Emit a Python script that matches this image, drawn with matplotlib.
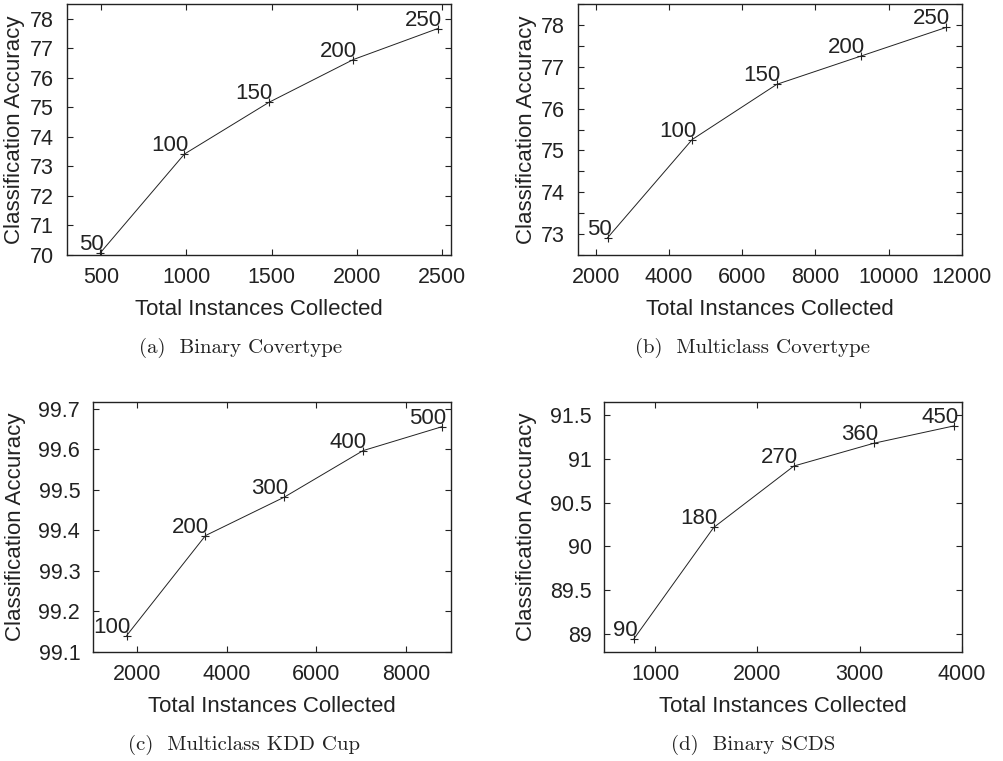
import matplotlib
matplotlib.use('Agg')
import matplotlib.pyplot as plt
from matplotlib.ticker import MultipleLocator

plt.rcParams['font.family'] = ['Liberation Sans', 'DejaVu Sans']

# (a) Binary Covertype
batch_a = [50, 100, 150, 200, 250]
inst_a = [495, 990, 1485, 1980, 2475]
acc_a = [70.06, 73.42, 75.17, 76.62, 77.67]

# (b) Multiclass Covertype
batch_b = [50, 100, 150, 200, 250]
inst_b = [2315, 4630, 6945, 9260, 11575]
acc_b = [72.91, 75.26, 76.58, 77.26, 77.94]

# (c) Multiclass KDD Cup
batch_c = [100, 200, 300, 400, 500]
inst_c = [1760, 3520, 5280, 7040, 8800]
acc_c = [99.14, 99.387, 99.482, 99.597, 99.656]

# (d) Binary SCDS
batch_d = [90, 180, 270, 360, 450]
inst_d = [786, 1571, 2357, 3142, 3928]
acc_d = [88.94, 90.216, 90.917, 91.177, 91.375]

captions = ['(a)  Binary Covertype', '(b)  Multiclass Covertype',
            '(c)  Multiclass KDD Cup', '(d)  Binary SCDS']

W, H = 1004, 761
fig = plt.figure(figsize=(W / 100, H / 100), dpi=100)


def px_axes(left, top, right, bottom):
    return fig.add_axes([left / W, 1 - bottom / H, (right - left) / W, (bottom - top) / H])


panels = [
    # data, box (l, t, r, b), xlim, ylim, xstep, ystep, yminor, ylabel x, caption x/y
    (inst_a, acc_a, batch_a, (66.7, 4, 450.7, 255), (300, 2550), (70, 78.5), 500, 1, None, 15, 241, 348),
    (inst_b, acc_b, batch_b, (577.7, 4, 961.7, 255), (1500, 12000), (72.5, 78.5), 2000, 1, 0.5, 527, 753, 348),
    (inst_c, acc_c, batch_c, (92.7, 401.7, 450.7, 651.7), (1000, 9000), (99.1, 99.718), 2000, 0.1, None, 16, 244, 745),
    (inst_d, acc_d, batch_d, (604.3, 401.7, 961.7, 651.7), (500, 4000), (88.8, 91.65), 1000, 0.5, None, 527, 753, 745),
]

ink = '#222222'
for i, (xs, ys, labels, box, xlim, ylim, xstep, ystep, yminor, ylab_x, cap_x, cap_y) in enumerate(panels):
    ax = px_axes(*box)
    ax.plot(xs, ys, color=ink, lw=0.7, marker='+', ms=6, mew=0.8)
    for x, y, lab in zip(xs, ys, labels):
        ax.annotate(str(lab), (x, y), xytext=(4, 3), textcoords='offset pixels',
                    ha='right', va='baseline', fontsize=16, color=ink)
    ax.set_xlim(*xlim)
    ax.set_ylim(*ylim)
    ax.xaxis.set_major_locator(MultipleLocator(xstep))
    ax.yaxis.set_major_locator(MultipleLocator(ystep))
    if yminor:
        ax.yaxis.set_minor_locator(MultipleLocator(yminor))
        ax.tick_params(axis='y', which='minor', direction='in', length=4, width=0.8,
                       left=True, right=True, color=ink)
    ax.tick_params(which='major', direction='in', length=4, width=0.8, top=True, right=True,
                   labelsize=15.5, color=ink, labelcolor=ink)
    ax.tick_params(axis='y', pad=9)
    ax.tick_params(axis='x', pad=9)
    if i == 3:
        ax.yaxis.set_major_formatter(plt.FuncFormatter(lambda v, p: ('%g' % round(v, 2))))
    for sp in ax.spines.values():
        sp.set_color(ink)
        sp.set_linewidth(1.0)

    l, t, r, b = box
    fig.text(ylab_x / W, 1 - ((t + b) / 2) / H, 'Classification Accuracy', rotation=90,
             ha='center', va='center', fontsize=16, color=ink)
    fig.text(((l + r) / 2) / W, 1 - (b + 55) / H, 'Total Instances Collected',
             ha='center', va='center', fontsize=16, color=ink)
    fig.text(cap_x / W, 1 - cap_y / H, captions[i], ha='center', va='center',
             fontsize=15, family='cmr10', color=ink)

fig.savefig('out.png', dpi=100)
